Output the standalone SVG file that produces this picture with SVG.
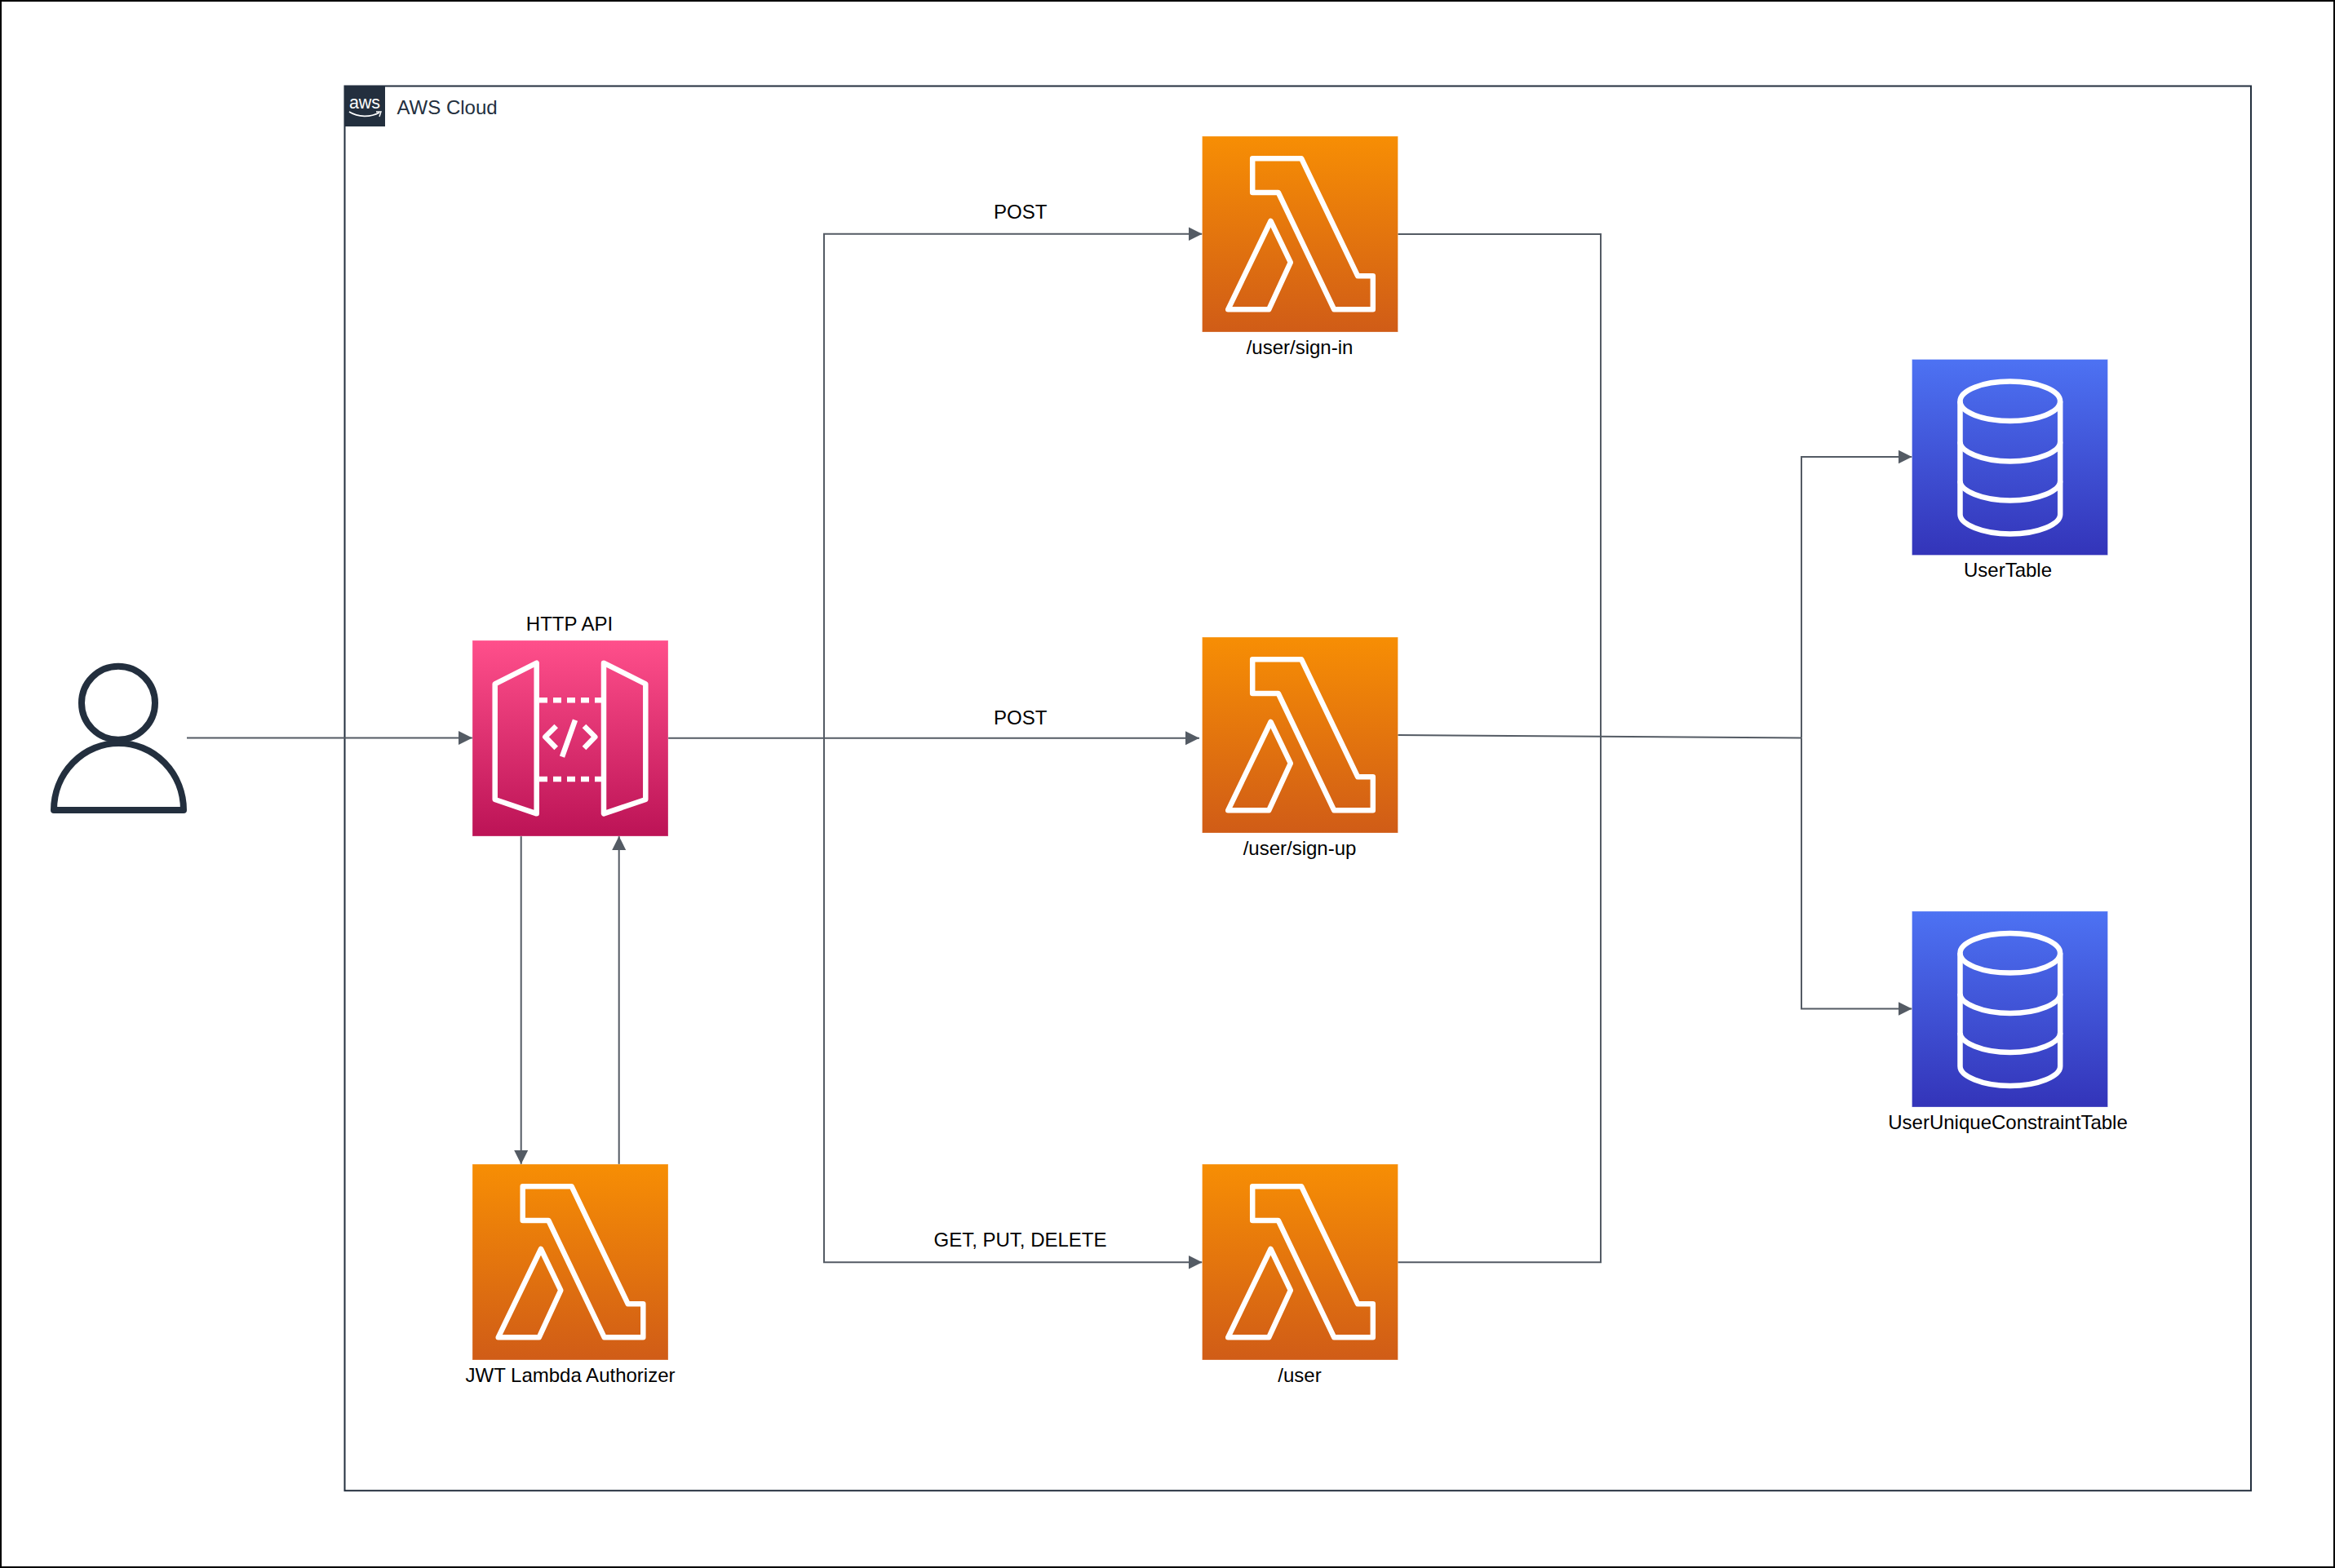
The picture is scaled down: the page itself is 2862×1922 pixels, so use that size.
<svg xmlns="http://www.w3.org/2000/svg" xmlns:xlink="http://www.w3.org/1999/xlink" width="2862" height="1922" viewBox="0 0 2862 1922">
<style>
.lbl{font-family:"Liberation Sans",Arial,sans-serif;font-size:24px;fill:#000;text-anchor:middle}
.cloud{font-family:"Liberation Sans",Arial,sans-serif;font-size:24px;fill:#232F3E}
.ico{fill:none;stroke:#fff;stroke-width:6.5;stroke-linejoin:round}
.box{stroke:#fff;stroke-opacity:.3;stroke-width:1}
.conn{fill:none;stroke:#545B64;stroke-width:2}
</style>
<defs>
<linearGradient id="gOrange" x1="0" y1="0" x2="0" y2="1"><stop offset="0" stop-color="#F78E04"/><stop offset="1" stop-color="#D05C17"/></linearGradient>
<linearGradient id="gPink" x1="0" y1="0" x2="0" y2="1"><stop offset="0" stop-color="#FF4F8B"/><stop offset="1" stop-color="#BC1356"/></linearGradient>
<linearGradient id="gBlue" x1="0" y1="0" x2="0" y2="1"><stop offset="0" stop-color="#4D72F3"/><stop offset="1" stop-color="#3334B9"/></linearGradient>
<marker id="arrow" markerUnits="userSpaceOnUse" markerWidth="18" markerHeight="18" refX="17" refY="9" orient="auto"><path d="M0,0.5 L17,9 L0,17.5 Z" fill="#545B64"/></marker>
<g id="lambda">
<rect class="box" width="240" height="240" fill="url(#gOrange)"/>
<path class="ico" d="M61.7,27.3H121.7L190.7,171.3H209.3V212.3H161.7L93.3,69H61.7Z"/>
<path class="ico" d="M84,104L108.3,154.7L81.7,212.3H31.7Z"/>
</g>
<g id="dynamo">
<rect class="box" width="240" height="240" fill="url(#gBlue)"/>
<ellipse class="ico" cx="120.3" cy="51.3" rx="61.3" ry="24.2"/>
<path class="ico" d="M59,51.3V190C59,202 86,214 120.3,214C155,214 181.7,202 181.7,190V51.3"/>
<path class="ico" d="M59,101C59,113 86,125 120.3,125C155,125 181.7,113 181.7,101"/>
<path class="ico" d="M59,149C59,161 86,173 120.3,173C155,173 181.7,161 181.7,149"/>
</g>
</defs>
<rect width="2862" height="1922" fill="#fff"/>
<rect id="frame" x="1" y="1" width="2860" height="1920" fill="none" stroke="#000" stroke-width="2"/>
<g id="aws-cloud">
<rect x="422.5" y="105.5" width="2336.5" height="1721.7" fill="none" stroke="#232F3E" stroke-width="2"/>
<rect x="422" y="105" width="50" height="50" fill="#232F3E"/>
<text x="447" y="132.5" font-family="'Liberation Sans',Arial,sans-serif" font-size="21.5" fill="#fff" text-anchor="middle">aws</text>
<path d="M428,137C439,144 454,144 465,138" fill="none" stroke="#fff" stroke-width="1.6"/>
<path d="M461,137L467,137L465,143" fill="none" stroke="#fff" stroke-width="1.4"/>
<text class="cloud" x="486.5" y="140">AWS Cloud</text>
</g>
<g id="connectors">
<path class="conn" d="M229,904.5H579" marker-end="url(#arrow)"/>
<path class="conn" d="M819,904.7H1470" marker-end="url(#arrow)"/>
<path class="conn" d="M1010,904.7V286.7H1473.5" marker-end="url(#arrow)"/>
<path class="conn" d="M1010,904.7V1547.3H1473.5" marker-end="url(#arrow)"/>
<path class="conn" d="M638.7,1025V1427" marker-end="url(#arrow)"/>
<path class="conn" d="M758.7,1427V1025" marker-end="url(#arrow)"/>
<path class="conn" d="M1713,287H1962V1547.3H1713"/>
<path class="conn" d="M1713,901L2208,904.5"/>
<path class="conn" d="M2208,904.5V560H2343.5" marker-end="url(#arrow)"/>
<path class="conn" d="M2208,904.5V1236.5H2343.5" marker-end="url(#arrow)"/>
<text class="lbl" x="1250.7" y="268.3">POST</text>
<text class="lbl" x="1250.7" y="888.3">POST</text>
<text class="lbl" x="1250.5" y="1528.3">GET, PUT, DELETE</text>
</g>
<g id="user">
<circle cx="145" cy="861.7" r="45" fill="none" stroke="#232F3E" stroke-width="8"/>
<path d="M66,993A79.5,82 0 0 1 225,993Z" fill="none" stroke="#232F3E" stroke-width="8" stroke-linejoin="round"/>
</g>
<g id="http-api" transform="translate(579,785)">
<rect class="box" width="240" height="240" fill="url(#gPink)"/>
<path class="ico" d="M27.7,53.3L78.7,27.7V212.3L27.7,195Z"/>
<path class="ico" d="M161,27.7L212.3,53.3V195L161,212.3Z"/>
<path class="ico" d="M82,73.3H92M99,73.3H109M116,73.3H126M133,73.3H143M150,73.3H158M82,170H92M99,170H109M116,170H126M133,170H143M150,170H158"/>
<path class="ico" d="M102.7,105L89.3,118.3L102.7,132M137,105L150.3,118.3L137,132M126,97.7L110,142.7" stroke-linejoin="miter"/>
<text class="lbl" x="119" y="-11.7">HTTP API</text>
</g>
<g id="sign-in" transform="translate(1473.5,167)"><use href="#lambda"/><text class="lbl" x="119.5" y="266.5">/user/sign-in</text></g>
<g id="sign-up" transform="translate(1473.5,781)"><use href="#lambda"/><text class="lbl" x="119.5" y="266.5">/user/sign-up</text></g>
<g id="user-fn" transform="translate(1473.5,1427)"><use href="#lambda"/><text class="lbl" x="119.5" y="266.5">/user</text></g>
<g id="authorizer" transform="translate(579,1427)"><use href="#lambda"/><text class="lbl" x="120" y="266.5">JWT Lambda Authorizer</text></g>
<g id="user-table" transform="translate(2343.5,440.5)"><use href="#dynamo"/><text class="lbl" x="117.5" y="266.8">UserTable</text></g>
<g id="unique-table" transform="translate(2343.5,1117)"><use href="#dynamo"/><text class="lbl" x="117.5" y="266.8">UserUniqueConstraintTable</text></g>
</svg>
